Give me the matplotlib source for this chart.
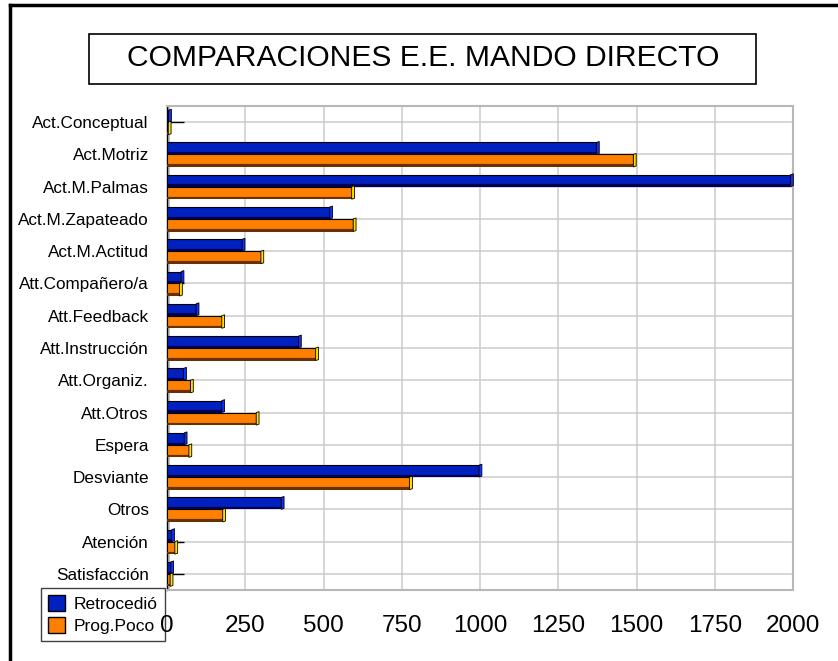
import matplotlib
matplotlib.use('Agg')
import matplotlib.pyplot as plt
from matplotlib.patches import Polygon, Rectangle, Patch
from matplotlib.lines import Line2D

plt.rcParams['font.family'] = ['Liberation Sans', 'DejaVu Sans']

# datos
categorias = ['Act.Conceptual', 'Act.Motriz', 'Act.M.Palmas', 'Act.M.Zapateado',
              'Act.M.Actitud', 'Att.Compañero/a', 'Att.Feedback', 'Att.Instrucción',
              'Att.Organiz.', 'Att.Otros', 'Espera', 'Desviante', 'Otros',
              'Atención', 'Satisfacción']
retrocedio = [5, 1372, 1992, 520, 240, 45, 93, 420, 53, 175, 55, 997, 365, 15, 12]
prog_poco = [4, 1490, 590, 595, 300, 40, 175, 475, 75, 285, 70, 775, 178, 25, 10]
ticks_x = [0, 250, 500, 750, 1000, 1250, 1500, 1750, 2000]
series = ['Retrocedió', 'Prog.Poco']

azul = '#0020C0'
naranja = '#FF8000'

W, H = 838, 661
fig = plt.figure(figsize=(W / 100, H / 100), dpi=100)
ax = fig.add_axes([167 / W, 71 / H, 626 / W, 484 / H])
ax.patch.set_alpha(0)

y = list(range(len(categorias)))

# pared gris de la izquierda
ax.axvspan(0, 8, color='#C0C0C0', zorder=1.5, lw=0)

# caras frontales y bordes oscuros (efecto 3D)
ax.barh([i - 0.37 for i in y], retrocedio, height=0.30, align='edge',
        color=azul, edgecolor='black', linewidth=0.8, zorder=3)
ax.barh([i - 0.07 for i in y], retrocedio, height=0.07, align='edge',
        color='#000050', linewidth=0, zorder=3)
ax.barh([i + 0.0 for i in y], prog_poco, height=0.31, align='edge',
        color=naranja, edgecolor='black', linewidth=0.8, zorder=3)
ax.barh([i + 0.31 for i in y], prog_poco, height=0.08, align='edge',
        color='#6A3000', linewidth=0, zorder=3)

# caras laterales
dx = 9
for i in y:
    v = retrocedio[i]
    ax.add_patch(Polygon([(v, i - 0.37), (v + dx, i - 0.40), (v + dx, i - 0.03), (v, i)],
                         closed=True, fc='#1030FF', ec='black', lw=0.6, zorder=3.2, clip_on=False))
    v = prog_poco[i]
    ax.add_patch(Polygon([(v, i), (v + dx, i - 0.03), (v + dx, i + 0.36), (v, i + 0.39)],
                         closed=True, fc='#FFE000', ec='black', lw=0.6, zorder=3.2, clip_on=False))

ax.set_xlim(0, 2000)
ax.set_ylim(len(categorias) - 0.5, -0.5)
ax.set_xticks(ticks_x)
ax.set_xticklabels([str(t) for t in ticks_x], fontsize=17.5)
ax.set_yticks(y)
ax.set_yticklabels(categorias, fontsize=12.3)

ax.set_axisbelow(True)
ax.grid(True, color='#CCCCCC', linewidth=1.1)
ax.tick_params(axis='x', length=0, pad=18)
ax.tick_params(axis='y', direction='in', length=12, width=1, color='black', pad=13)

for s in ['top', 'right', 'bottom']:
    ax.spines[s].set_color('#B8B8B8')
    ax.spines[s].set_linewidth(1.5)
ax.spines['left'].set_color('black')
ax.spines['left'].set_linewidth(1)

# caja del titulo
fig.patches.append(Rectangle((89 / W, 1 - 84 / H), (756 - 89) / W, 50 / H,
                             transform=fig.transFigure, fc='white', ec='black', lw=1.2))
fig.text(423.5 / W, 1 - 58 / H, 'COMPARACIONES E.E. MANDO DIRECTO',
         ha='center', va='center', fontsize=21.6)

# marco exterior (solo izquierda y arriba visibles)
fig.lines.append(Line2D([10 / W, 10 / W], [0, 1 - 5 / H], transform=fig.transFigure,
                        color='black', lw=2.5))
fig.lines.append(Line2D([10 / W, 1], [1 - 5 / H, 1 - 5 / H], transform=fig.transFigure,
                        color='black', lw=2.5))

handles = [Patch(fc=azul, ec='black'), Patch(fc=naranja, ec='black')]
leg = fig.legend(handles, series, loc='lower left', bbox_to_anchor=(41 / W, 20 / H),
                 fontsize=12.5, fancybox=False, edgecolor='#404040', framealpha=1,
                 handlelength=1.0, handleheight=1.0, handletextpad=0.5,
                 labelspacing=0.3, borderpad=0.4, borderaxespad=0)
leg.get_frame().set_linewidth(1)
leg.set_zorder(-1)

plt.savefig('out.png', dpi=100)
